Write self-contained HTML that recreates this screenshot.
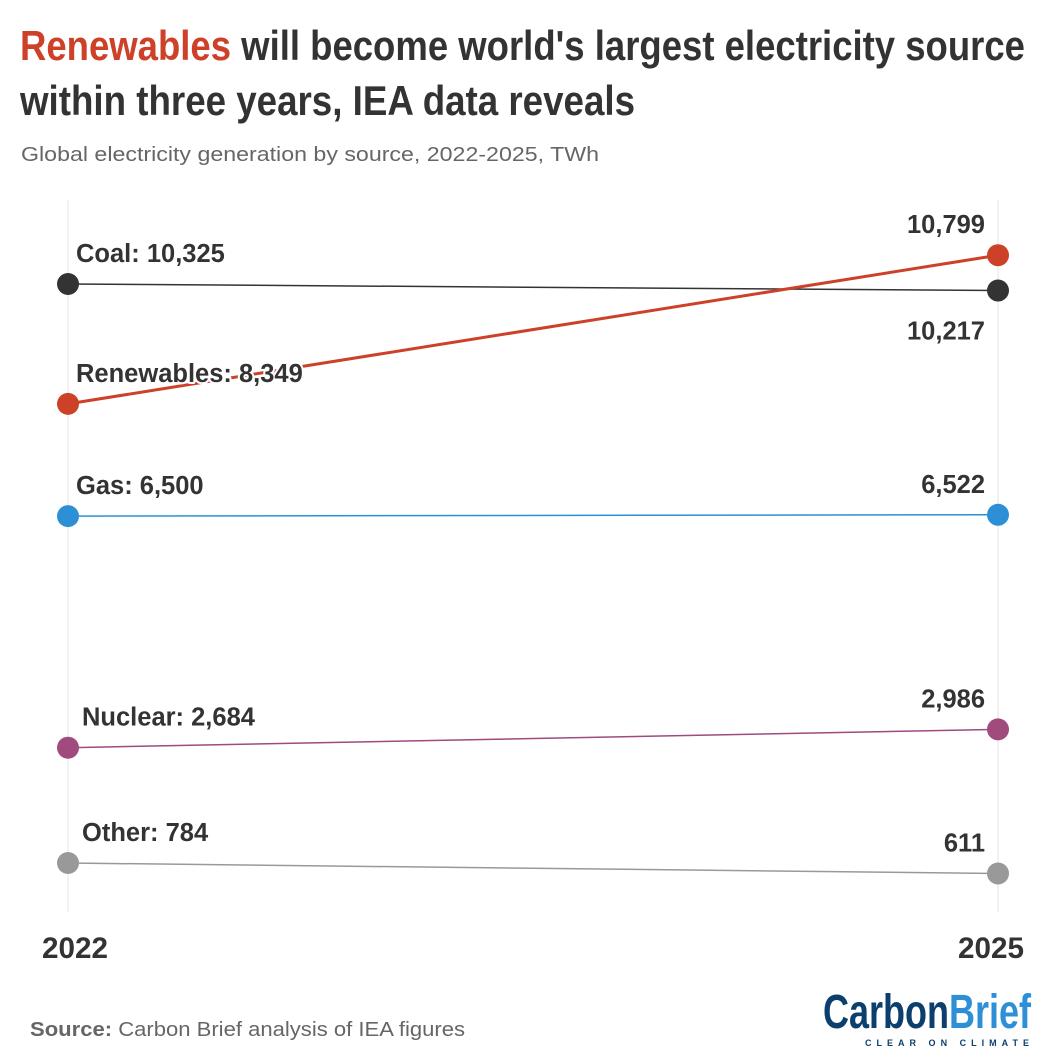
<!DOCTYPE html>
<html><head><meta charset="utf-8"><style>
html,body{margin:0;padding:0;background:#fff}
svg{display:block}
text{font-family:"Liberation Sans",sans-serif}
.lbl{font-weight:bold;font-size:25.5px;fill:#333;stroke:#fff;stroke-width:4px;paint-order:stroke;stroke-linejoin:round}
</style></head><body>
<svg id="chart" width="1053" height="1061" viewBox="0 0 1053 1061">
<text x="20" y="60" font-size="42" font-weight="bold" textLength="1005" lengthAdjust="spacingAndGlyphs" fill="#333"><tspan fill="#cc4128">Renewables</tspan> will become world's largest electricity source</text>
<text x="20" y="115" font-size="42" font-weight="bold" textLength="615" lengthAdjust="spacingAndGlyphs" fill="#333">within three years, IEA data reveals</text>
<text x="21" y="161" font-size="20" fill="#666" textLength="578" lengthAdjust="spacingAndGlyphs">Global electricity generation by source, 2022-2025, TWh</text>
<g id="plot"></g>
<text x="42" y="958" font-size="30" font-weight="bold" fill="#333" textLength="66" lengthAdjust="spacingAndGlyphs">2022</text>
<text x="958" y="958" font-size="30" font-weight="bold" fill="#333" textLength="66" lengthAdjust="spacingAndGlyphs">2025</text>
<text x="30" y="1036" font-size="20" fill="#666" textLength="435" lengthAdjust="spacingAndGlyphs"><tspan font-weight="bold">Source:</tspan> Carbon Brief analysis of IEA figures</text>
<g>
<text x="823" y="1028" font-size="48" font-weight="bold" textLength="208" lengthAdjust="spacingAndGlyphs"><tspan fill="#0b3f6e">Carbon</tspan><tspan fill="#2d8fd5">Brief</tspan></text>
<text x="865" y="1046" font-size="9" font-weight="bold" fill="#0b3f6e" textLength="164" lengthAdjust="spacing">CLEAR ON CLIMATE</text>
</g>
</svg>
<script>
const series = ["Coal","Renewables","Gas","Nuclear","Other"];
const values2022 = [10325, 8349, 6500, 2684, 784];
const values2025 = [10217, 10799, 6522, 2986, 611];
const years = ["2022","2025"];
const colors = ["#333333","#cc4128","#2d8fd5","#a04a7e","#999999"];
const NS="http://www.w3.org/2000/svg";
const g=document.getElementById('plot');
function y(v){return 910.6 - v*0.06069;}
function x(i){return i===0?68:998;}
function mk(t,a){const e=document.createElementNS(NS,t);for(const k in a)e.setAttribute(k,a[k]);g.appendChild(e);return e;}
years.forEach((yr,i)=>{
  const l=mk('line',{x1:x(i),x2:x(i),y1:200,y2:912,stroke:'#e3e3e3','stroke-width':1});
  
  
});
const fmt=v=>v.toLocaleString('en-US');
const order=[4,3,2,0,1];
order.forEach(i=>{
  const n=series[i].toLowerCase();
  const ln=mk('line',{x1:x(0),y1:y(values2022[i]),x2:x(1),y2:y(values2025[i]),stroke:colors[i],'stroke-width':i===1?3:1.5});
  
  
  [values2022[i],values2025[i]].forEach((v,j)=>{
    const c=mk('circle',{cx:x(j),cy:y(v),r:11,fill:colors[i]});
    
    
  });
});
series.forEach((s,i)=>{
  const n=s.toLowerCase();
  const lx=(s==='Nuclear'||s==='Other')?82:76;
  const t=mk('text',{x:lx,y:y(values2022[i])-22,'class':'lbl'});
  t.textContent=s+': '+fmt(values2022[i]);
  
  
  const below=s==='Coal';
  const t2=mk('text',{x:985,y:below?y(values2025[i])+49:y(values2025[i])-22,'class':'lbl','text-anchor':'end'});
  t2.textContent=fmt(values2025[i]);
  
  
});
</script>
</body></html>
